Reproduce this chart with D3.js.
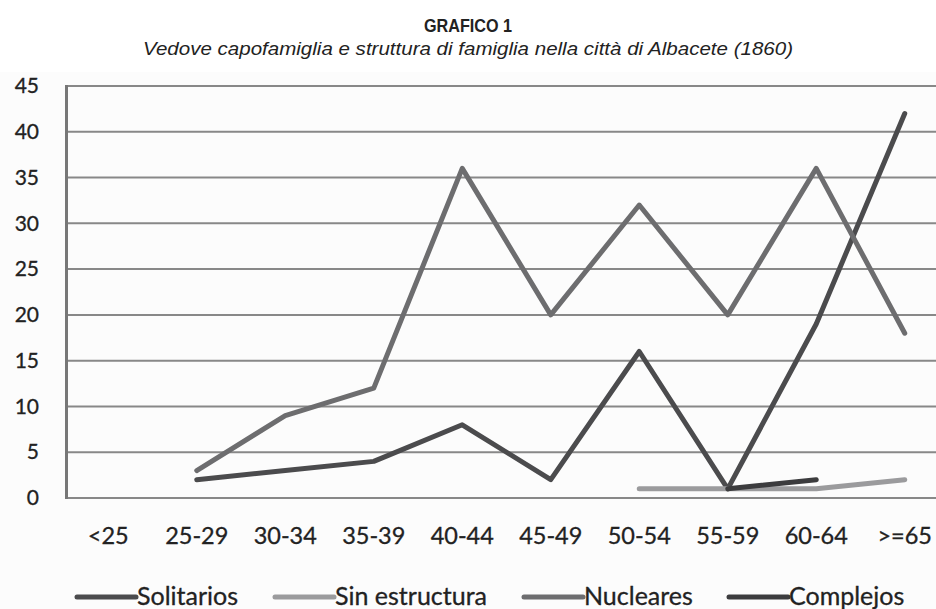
<!DOCTYPE html>
<html>
<head>
<meta charset="utf-8">
<script src="https://cdn.jsdelivr.net/npm/d3@7"></script>
<style>
  body { margin: 0; background: #fff; }
  svg { display: block; }
</style>
</head>
<body>
<div id="chart"></div>
<script>
const categories = ['<25', '25-29', '30-34', '35-39', '40-44', '45-49', '50-54', '55-59', '60-64', '>=65'];
const solitarios = [null, 2, 3, 4, 8, 2, 16, 1, 19, 42];
const sinEstructura = [null, null, null, null, null, null, 1, 1, 1, 2];
const nucleares = [null, 3, 9, 12, 36, 20, 32, 20, 36, 18];
const complejos = [null, null, null, null, null, null, null, 1, 2, null];
const yTicks = [0, 5, 10, 15, 20, 25, 30, 35, 40, 45];
const seriesNames = ['Solitarios', 'Sin estructura', 'Nucleares', 'Complejos'];

const width = 936, height = 609;
const margin = {left: 64, top: 86, bottom: 111};   // plot runs past right edge (cropped)
const plotRight = 949;

const series = [
  {name: seriesNames[0], values: solitarios, color: '#4b4b4d'},
  {name: seriesNames[1], values: sinEstructura, color: '#9b9b9d'},
  {name: seriesNames[2], values: nucleares, color: '#6d6d6f'},
  {name: seriesNames[3], values: complejos, color: '#3c3c3e'}
];

const svg = d3.select('#chart').append('svg')
    .attr('width', width)
    .attr('height', height);

svg.append('rect')
    .attr('x', 0).attr('y', 72)
    .attr('width', width).attr('height', height - 72)
    .attr('fill', '#fcfcfc');

// titles
svg.append('text')
    .text('GRAFICO 1')
    .attr('x', 468).attr('y', 32)
    .attr('text-anchor', 'middle')
    .attr('textLength', 88)
    .attr('lengthAdjust', 'spacingAndGlyphs')
    .style('font-family', '"Liberation Sans", Arial, sans-serif')
    .style('font-weight', 'bold')
    .style('font-size', '18.5px')
    .attr('fill', '#222');

svg.append('text')
    .text('Vedove capofamiglia e struttura di famiglia nella città di Albacete (1860)')
    .attr('x', 468).attr('y', 55)
    .attr('text-anchor', 'middle')
    .attr('textLength', 650)
    .attr('lengthAdjust', 'spacingAndGlyphs')
    .style('font-family', '"Liberation Sans", Arial, sans-serif')
    .style('font-style', 'italic')
    .style('font-size', '17.5px')
    .attr('fill', '#222');

const xScale = d3.scaleBand()
    .domain(categories)
    .range([margin.left, plotRight]);

const yScale = d3.scaleLinear()
    .domain([0, 45])
    .range([height - margin.bottom, margin.top]);

// grid lines
svg.append('g')
    .selectAll('line')
    .data(yTicks)
    .enter()
    .append('line')
    .attr('x1', 66).attr('x2', width)
    .attr('y1', d => yScale(d)).attr('y2', d => yScale(d))
    .attr('stroke', '#888')
    .attr('stroke-width', 2);

// left axis line
svg.append('line')
    .attr('x1', 66.5).attr('x2', 66.5)
    .attr('y1', yScale(45) - 1).attr('y2', yScale(0) + 1)
    .attr('stroke', '#777')
    .attr('stroke-width', 3);

// y labels
const yAxis = svg.append('g')
    .attr('transform', 'translate(39,0)')
    .call(d3.axisLeft(yScale).tickValues(yTicks).tickSize(0).tickPadding(0));
yAxis.select('.domain').remove();
yAxis.selectAll('text')
    .style('font-family', 'Lato, "Open Sans", sans-serif')
    .style('font-size', '21px')
    .attr('fill', '#222')
    .attr('stroke', '#222')
    .attr('stroke-width', 0.3);

// x labels
const xAxis = svg.append('g')
    .attr('transform', 'translate(0,' + (height - margin.bottom) + ')')
    .call(d3.axisBottom(xScale).tickSize(0).tickPadding(29));
xAxis.select('.domain').remove();
xAxis.selectAll('text')
    .style('font-family', 'Lato, "Open Sans", sans-serif')
    .style('font-size', '23.5px')
    .attr('fill', '#222')
    .attr('stroke', '#222')
    .attr('stroke-width', 0.3);

// lines
const line = d3.line()
    .defined(d => d != null)
    .x((d, i) => xScale(categories[i]) + xScale.bandwidth() / 2)
    .y(d => yScale(d));

svg.append('g')
    .selectAll('path')
    .data(series)
    .enter()
    .append('path')
    .attr('d', d => line(d.values))
    .attr('fill', 'none')
    .attr('stroke', d => d.color)
    .attr('stroke-width', 5)
    .attr('stroke-linejoin', 'round')
    .attr('stroke-linecap', 'round');

// legend
const legendX = [77, 275, 524, 729];
const legend = svg.append('g')
    .selectAll('g')
    .data(series)
    .enter()
    .append('g')
    .attr('transform', (d, i) => 'translate(' + legendX[i] + ',597)');
legend.append('line')
    .attr('x1', 0).attr('x2', 59)
    .attr('y1', 0).attr('y2', 0)
    .attr('stroke', d => d.color)
    .attr('stroke-width', 5)
    .attr('stroke-linecap', 'round');
legend.append('text')
    .text(d => d.name)
    .attr('x', 60).attr('y', 8)
    .style('font-family', 'Lato, "Open Sans", sans-serif')
    .style('font-size', '25px')
    .attr('fill', '#222')
    .attr('stroke', '#222')
    .attr('stroke-width', 0.3);
</script>
</body>
</html>
